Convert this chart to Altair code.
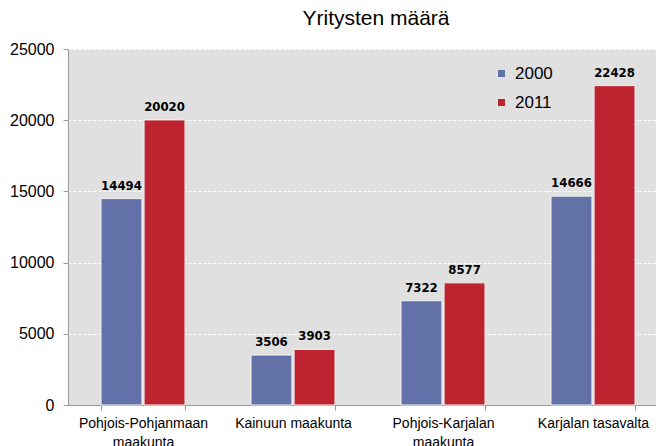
import altair as alt
import pandas as pd

regions = ["Pohjois-Pohjanmaan|maakunta", "Kainuun maakunta", "Pohjois-Karjalan|maakunta", "Karjalan tasavalta"]
years = ["2000", "2011"]
values_2000 = [14494, 3506, 7322, 14666]
values_2011 = [20020, 3903, 8577, 22428]
colors = ["#6272A9", "#BD2430"]

rows = []
for r, a, b in zip(regions, values_2000, values_2011):
    rows.append({"region": r, "year": "2000", "value": a})
    rows.append({"region": r, "year": "2011", "value": b})
df = pd.DataFrame(rows)

x = alt.X("region:N", sort=regions, title=None,
          scale=alt.Scale(paddingInner=0.44, paddingOuter=0.22),
          axis=alt.Axis(labelAngle=0, labelExpr="split(datum.label, '|')",
                        tickBand="extent", labelFontSize=14, labelFont="Liberation Sans",
                        labelColor="#000", domainColor="#999", tickColor="#999",
                        tickSize=5, labelPadding=6, labelLineHeight=19))
xo = alt.XOffset("year:N", scale=alt.Scale(paddingInner=0.05))
y = alt.Y("value:Q", title=None,
          scale=alt.Scale(domain=[0, 25000], nice=False),
          axis=alt.Axis(values=[0, 5000, 10000, 15000, 20000, 25000], format="d",
                        labelFontSize=16, labelFont="Liberation Sans", labelColor="#000",
                        grid=True, gridColor="#ffffff", gridDash=[3, 2], gridWidth=1,
                        domainColor="#999", tickColor="#999", tickSize=5, labelPadding=9))

bars = alt.Chart(df).mark_bar(stroke="#f2f2f2", strokeWidth=1).encode(
    x=x, xOffset=xo, y=y,
    color=alt.Color("year:N", scale=alt.Scale(domain=years, range=colors),
                    legend=alt.Legend(title=None, orient="none", legendX=425, legendY=16,
                                      symbolType="square", symbolSize=49, symbolStrokeWidth=0,
                                      labelFontSize=17, labelFont="Liberation Sans",
                                      labelColor="#000", rowPadding=11, labelOffset=5)),
)
labels = alt.Chart(df).mark_text(baseline="bottom", dy=-6, fontWeight="bold", fontSize=13,
                                 font="DejaVu Sans Condensed", color="#000").encode(
    x=x, xOffset=xo, y=y, text=alt.Text("value:Q", format="d"))

chart = alt.layer(bars, labels).properties(
    width=600, height=356,
    title=alt.TitleParams("Yritysten määrä", fontSize=21, font="Liberation Sans",
                          fontWeight="normal", color="#000", offset=12, dx=8),
    padding={"left": 60, "top": 41, "right": -12, "bottom": 41},
    autosize=alt.AutoSizeParams(type="none"),
).configure_view(fill="#E0E0E0", stroke=None)

chart.save("out.html", embed_options={"renderer": "svg", "actions": False})
